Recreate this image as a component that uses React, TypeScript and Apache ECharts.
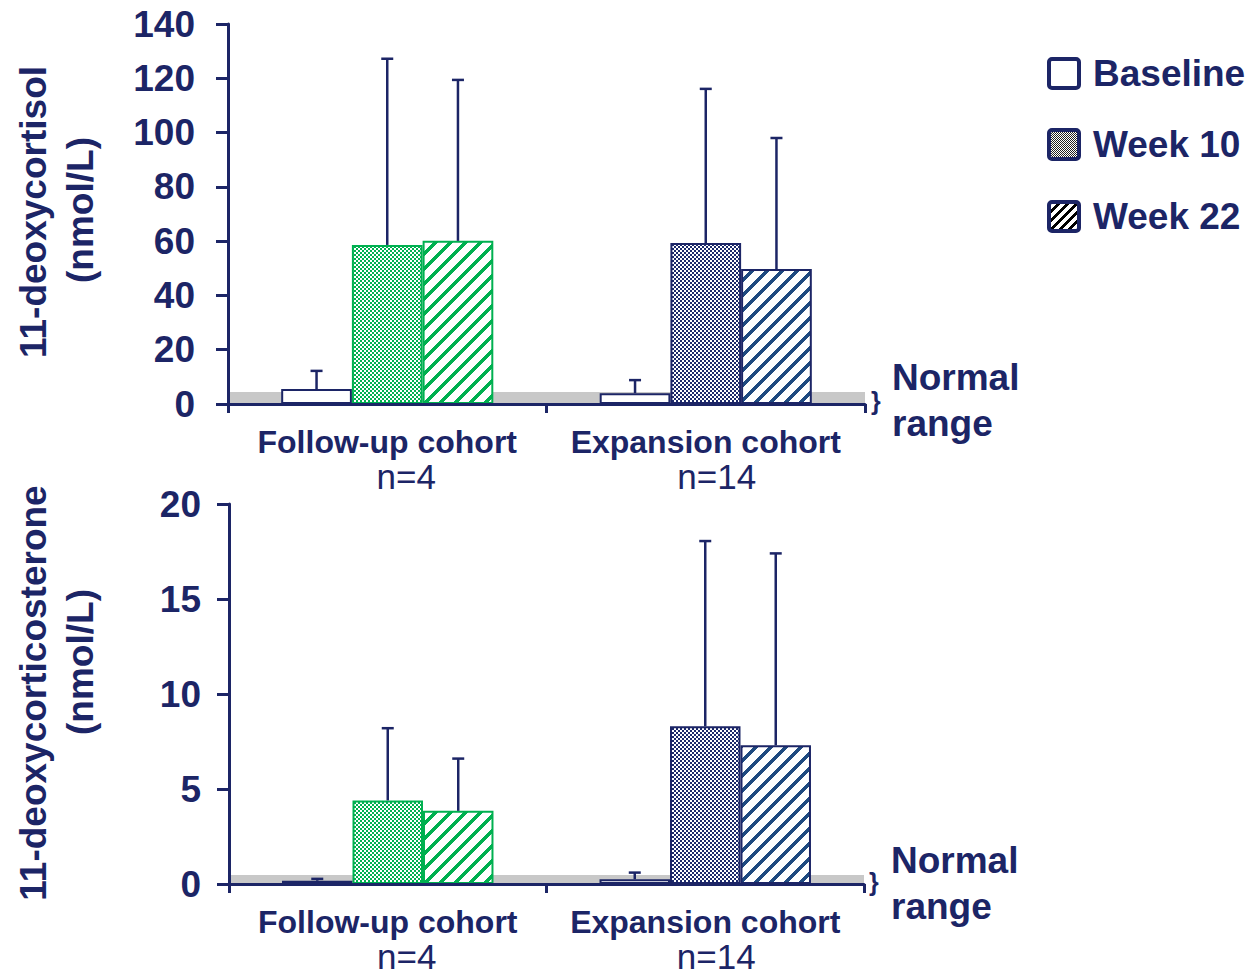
import React, { useEffect, useRef } from "react";
import * as echarts from "echarts";

const categories = ["Follow-up cohort", "Expansion cohort"];
const nLabels = ["n=4", "n=14"];
const seriesNames = ["Baseline", "Week 10", "Week 22"];

// 11-deoxycortisol (nmol/L): means and upper error bar ends
const cortisolBaseline = [5.5, 4.0];
const cortisolBaselineUpper = [12.2, 8.8];
const cortisolWeek10 = [58.6, 59.3];
const cortisolWeek10Upper = [127.2, 116.1];
const cortisolWeek22 = [60.1, 49.7];
const cortisolWeek22Upper = [119.4, 98.0];
const cortisolNormalMax = 4.4;
const cortisolTicks = { min: 0, max: 140, interval: 20 };

// 11-deoxycorticosterone (nmol/L)
const docBaseline = [0.17, 0.25];
const docBaselineUpper = [0.27, 0.6];
const docWeek10 = [4.4, 8.3];
const docWeek10Upper = [8.2, 18.05];
const docWeek22 = [3.85, 7.3];
const docWeek22Upper = [6.6, 17.4];
const docNormalMax = 0.47;
const docTicks = { min: 0, max: 20, interval: 5 };

const NAVY = "#1C2566";
const GREEN = "#00B050";
const FONT = "'Liberation Sans', Arial, Helvetica, sans-serif";
const BAR_FRAC = 0.222;

function makePattern(kind: "checker" | "stripe", color: string, size: number, t: number) {
  const c = document.createElement("canvas");
  c.width = size;
  c.height = size;
  const ctx = c.getContext("2d")!;
  ctx.fillStyle = "#ffffff";
  ctx.fillRect(0, 0, size, size);
  ctx.fillStyle = color;
  for (let y = 0; y < size; y++) {
    for (let x = 0; x < size; x++) {
      let on = false;
      if (kind === "checker") on = (Math.floor(x / t) + Math.floor(y / t)) % 2 === 0;
      else on = (x + y) % size < t;
      if (on) ctx.fillRect(x, y, 1, 1);
    }
  }
  return { image: c.toDataURL(), repeat: "repeat", imageWidth: size, imageHeight: size };
}

function buildOption() {
  const greenChecker = makePattern("checker", GREEN, 4, 2);
  const greenStripe = makePattern("stripe", GREEN, 15, 5);
  const navyChecker = makePattern("checker", "#1C2A6A", 4, 2);
  const navyStripe = makePattern("stripe", "#1F4A80", 15, 5);
  const legendChecker = makePattern("checker", "#222222", 2, 1);
  const legendStripe = makePattern("stripe", "#000000", 9, 4);

  const fills = [
    [
      { color: "#ffffff", borderColor: NAVY, borderWidth: 2 },
      { color: "#ffffff", borderColor: NAVY, borderWidth: 2 },
    ],
    [
      { color: greenChecker, borderColor: GREEN, borderWidth: 2 },
      { color: navyChecker, borderColor: NAVY, borderWidth: 2 },
    ],
    [
      { color: greenStripe, borderColor: GREEN, borderWidth: 2 },
      { color: navyStripe, borderColor: NAVY, borderWidth: 2 },
    ],
  ];

  const panels = [
    {
      means: [cortisolBaseline, cortisolWeek10, cortisolWeek22],
      uppers: [cortisolBaselineUpper, cortisolWeek10Upper, cortisolWeek22Upper],
      normal: cortisolNormalMax,
    },
    {
      means: [docBaseline, docWeek10, docWeek22],
      uppers: [docBaselineUpper, docWeek10Upper, docWeek22Upper],
      normal: docNormalMax,
    },
  ];

  const series: any[] = [];
  panels.forEach((p, gi) => {
    p.means.forEach((vals, k) => {
      const s: any = {
        name: seriesNames[k],
        type: "bar",
        xAxisIndex: gi,
        yAxisIndex: gi,
        barWidth: BAR_FRAC * 100 + "%",
        barGap: "0%",
        z: 2,
        data: vals.map((v, ci) => ({ value: v, itemStyle: fills[k][ci] })),
      };
      if (k === 0) {
        s.markArea = {
          silent: true,
          z: 1,
          itemStyle: { color: "#C8C8C8" },
          data: [[{ yAxis: 0 }, { yAxis: p.normal }]],
        };
      }
      series.push(s);
    });
    const errData: number[][] = [];
    p.means.forEach((vals, k) => {
      vals.forEach((v, ci) => errData.push([ci, k, v, p.uppers[k][ci]]));
    });
    series.push({
      type: "custom",
      xAxisIndex: gi,
      yAxisIndex: gi,
      z: 4,
      encode: { x: 0, y: 3 },
      data: errData,
      renderItem: (params: any, api: any) => {
        const ci = api.value(0);
        const k = api.value(1);
        const base = api.coord([ci, api.value(2)]);
        const top = api.coord([ci, api.value(3)]);
        const bw = api.size([1, 0])[0] * BAR_FRAC;
        const x = base[0] + (k - 1) * bw;
        const st = { stroke: NAVY, lineWidth: 2.5 };
        return {
          type: "group",
          children: [
            { type: "line", shape: { x1: x, y1: base[1], x2: x, y2: top[1] }, style: st },
            { type: "line", shape: { x1: x - 6, y1: top[1], x2: x + 6, y2: top[1] }, style: st },
          ],
        };
      },
    });
  });

  const axisLineStyle = { color: NAVY, width: 3 };
  const xAxisBase = (gi: number) => ({
    type: "category",
    gridIndex: gi,
    data: categories,
    z: 5,
    axisLine: { lineStyle: axisLineStyle },
    axisTick: { show: true, length: 9, lineStyle: axisLineStyle },
    axisLabel: {
      interval: 0,
      margin: 21,
      formatter: (v: string, i: number) => `{a|${v}}\n{${i === 0 ? "b" : "c"}|${nLabels[i]}}`,
      rich: {
        a: { fontSize: 32, fontWeight: "bold", color: NAVY, lineHeight: 34, fontFamily: FONT },
        b: { fontSize: 35, color: NAVY, lineHeight: 34, fontFamily: FONT, padding: [0, 0, 0, 38] },
        c: { fontSize: 35, color: NAVY, lineHeight: 34, fontFamily: FONT, padding: [0, 0, 0, 22] },
      },
    },
  });
  const yAxisBase = (gi: number, t: any, margin: number) => ({
    type: "value",
    gridIndex: gi,
    min: t.min,
    max: t.max,
    interval: t.interval,
    z: 5,
    axisLine: { show: true, lineStyle: axisLineStyle },
    axisTick: { show: true, length: 12, lineStyle: axisLineStyle },
    splitLine: { show: false },
    axisLabel: { margin, fontSize: 37, fontWeight: "bold", color: NAVY, fontFamily: FONT },
  });

  const txt = (text: string, x: number, y: number, size: number, extra: any = {}) => ({
    type: "text",
    x,
    y,
    style: {
      text,
      fill: NAVY,
      font: `bold ${size}px ${FONT}`,
      verticalAlign: "middle",
      ...extra,
    },
  });
  const rotTxt = (text: string, x: number, y: number) => ({
    type: "text",
    x,
    y,
    rotation: Math.PI / 2,
    style: {
      text,
      fill: NAVY,
      font: `bold 37px ${FONT}`,
      align: "center",
      verticalAlign: "middle",
    },
  });
  const legendBox = (y: number, fill: any) => ({
    type: "rect",
    shape: { x: 1049, y, width: 30, height: 29, r: 3 },
    style: { fill, stroke: NAVY, lineWidth: 4 },
  });

  const graphic = [
    legendBox(59, "#ffffff"),
    legendBox(130, legendChecker),
    legendBox(202, legendStripe),
    txt("Baseline", 1093, 73, 37),
    txt("Week 10", 1093, 144, 37),
    txt("Week 22", 1093, 216, 37),
    txt("}", 871, 401, 25),
    txt("Normal", 892, 377, 37),
    txt("range", 892, 423, 37),
    txt("}", 869, 882, 25),
    txt("Normal", 891, 860, 37),
    txt("range", 891, 906, 37),
    rotTxt("11-deoxycortisol", 33, 212),
    rotTxt("(nmol/L)", 80, 210),
    rotTxt("11-deoxycorticosterone", 33, 693),
    rotTxt("(nmol/L)", 80, 662),
  ];

  return {
    animation: false,
    backgroundColor: "#ffffff",
    textStyle: { fontFamily: FONT },
    grid: [
      { left: 228, top: 24, width: 637, height: 380 },
      { left: 229, top: 504, width: 635, height: 380 },
    ],
    xAxis: [xAxisBase(0), xAxisBase(1)],
    yAxis: [yAxisBase(0, cortisolTicks, 33), yAxisBase(1, docTicks, 28)],
    series,
    graphic,
  };
}

export default function App() {
  const ref = useRef<HTMLDivElement>(null);
  useEffect(() => {
    document.body.style.margin = "0";
    document.body.style.overflow = "hidden";
    if (!ref.current) return;
    const chart = echarts.init(ref.current, null, { renderer: "svg" });
    chart.setOption(buildOption() as any);
    return () => chart.dispose();
  }, []);
  return <div ref={ref} style={{ width: 1253, height: 976 }} />;
}
